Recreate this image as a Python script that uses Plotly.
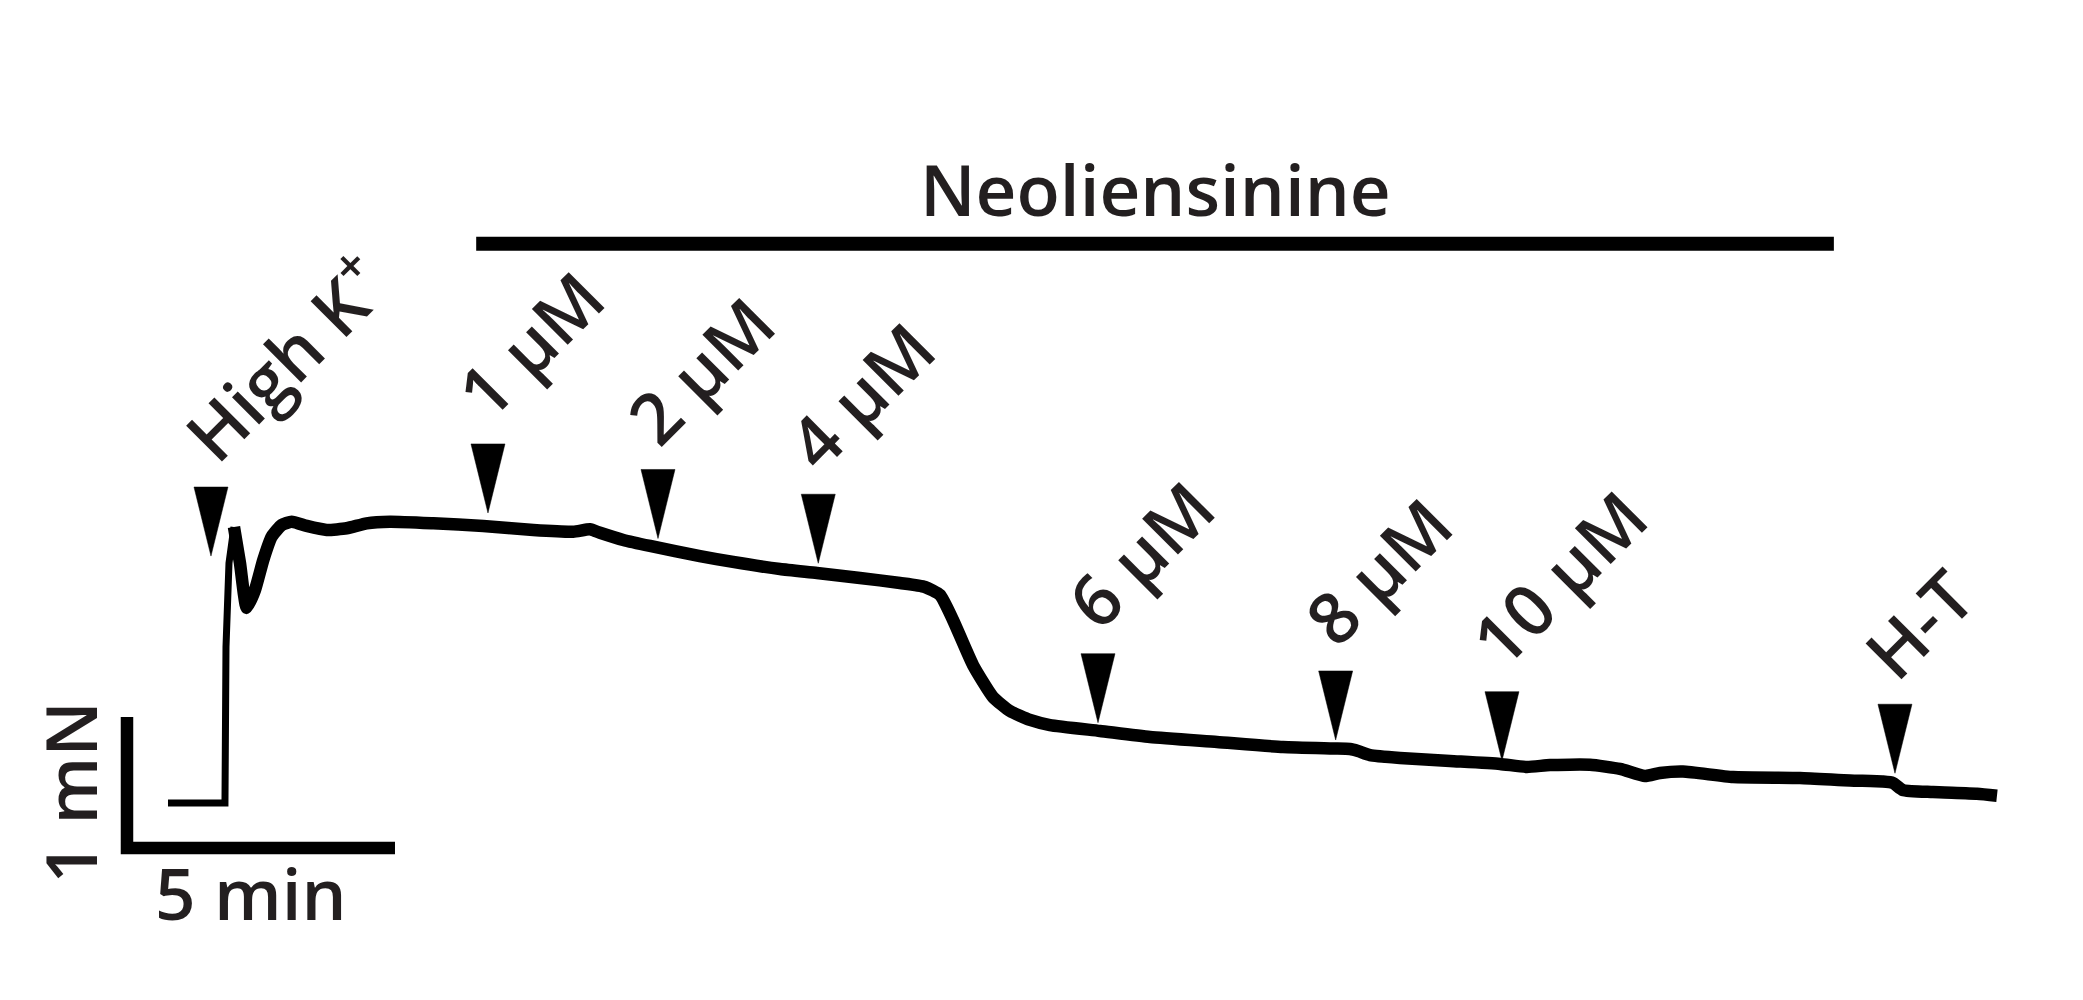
import plotly.graph_objects as go

# ---------------- data (time in min, tension in mN) ----------------
# resting baseline and the initial High-K+ rise (thin part of the trace)
rise_time = [0.0, 1.063, 1.082, 1.138, 1.231]
rise_force = [0.0, 0.0, 1.191, 1.832, 2.107]

# contraction trace after the High-K+ peak
trace_time = [1.231, 1.343, 1.468, 1.623, 1.778, 1.935, 2.121, 2.308, 2.588, 2.961,
              3.334, 3.707, 4.142, 4.950, 5.882, 6.815, 7.562, 7.873, 8.060, 8.494,
              8.993, 9.925, 10.541, 11.418, 12.108, 12.910, 13.657, 14.123, 14.403, 14.646,
              15.019, 15.392, 15.709, 16.082, 16.455, 17.388, 18.321, 19.571, 20.802, 21.735,
              22.052, 22.201, 22.425, 22.985, 23.918, 24.851, 25.354, 25.784, 26.530, 27.090,
              27.556, 27.836, 28.265, 29.198, 30.448, 31.381, 31.996, 32.183, 32.369, 32.929,
              33.750, 34.123]
trace_force = [2.107, 1.832, 1.489, 1.626, 1.855, 2.033, 2.122, 2.147, 2.115, 2.084,
               2.097, 2.135, 2.147, 2.135, 2.115, 2.084, 2.071, 2.089, 2.063, 2.008,
               1.962, 1.885, 1.840, 1.786, 1.756, 1.718, 1.679, 1.649, 1.588, 1.397,
               1.053, 0.809, 0.702, 0.634, 0.595, 0.550, 0.504, 0.466, 0.427, 0.416,
               0.412, 0.397, 0.366, 0.344, 0.321, 0.298, 0.275, 0.290, 0.292, 0.260,
               0.206, 0.229, 0.240, 0.198, 0.191, 0.172, 0.164, 0.153, 0.099, 0.084,
               0.071, 0.056]

# drug additions (arrowheads) and their labels
event_labels = ["High K<sup>+</sup>", "1 µM", "2 µM", "4 µM", "6 µM", "8 µM", "10 µM", "H-T"]
event_time = [0.802, 5.970, 9.142, 12.132, 17.351, 21.785, 24.888, 32.220]
event_force = [1.885, 2.214, 2.019, 1.830, 0.613, 0.481, 0.323, 0.227]

# treatment period bar
drug_name = "Neoliensinine"
drug_start = 5.75
drug_end = 31.08
drug_bar_level = 4.27

# scale bar
scale_time_min = 5
scale_force_mN = 1
scale_corner_time = -0.765
scale_corner_force = -0.344

# ---------------- styling ----------------
FONT = "Open Sans"
FS = 71
TXT = "#231f20"
# page body has an 8px margin, so the figure is 8px smaller than the window
FIG_W, FIG_H = 2075, 992
X_RANGE = [-2.985, 35.728]
Y_RANGE = [-1.5038, 6.0687]
ARROW_W = 0.634   # min
ARROW_H = 0.527   # mN

fig = go.Figure()

# thin baseline + rise
fig.add_trace(go.Scatter(x=rise_time, y=rise_force, mode="lines",
                         line=dict(color="black", width=7), hoverinfo="skip"))
# thick trace
fig.add_trace(go.Scatter(x=trace_time, y=trace_force, mode="lines",
                         line=dict(color="black", width=12.5, shape="spline", smoothing=0.5),
                         hoverinfo="skip"))

# arrowheads
ax_, ay_ = [], []
for t, f in zip(event_time, event_force):
    ax_ += [t - ARROW_W / 2, t + ARROW_W / 2, t, t - ARROW_W / 2, None]
    ay_ += [f + ARROW_H, f + ARROW_H, f, f + ARROW_H, None]
fig.add_trace(go.Scatter(x=ax_, y=ay_, mode="lines", fill="toself",
                         fillcolor="black", line=dict(color="black", width=0.5),
                         hoverinfo="skip"))

# treatment bar
fig.add_trace(go.Scatter(x=[drug_start, drug_end], y=[drug_bar_level, drug_bar_level],
                         mode="lines", line=dict(color="black", width=14), hoverinfo="skip"))

# scale bar
fig.add_trace(go.Scatter(
    x=[scale_corner_time, scale_corner_time, scale_corner_time + scale_time_min],
    y=[scale_corner_force + scale_force_mN, scale_corner_force, scale_corner_force],
    mode="lines", line=dict(color="black", width=12.5), hoverinfo="skip"))

font = dict(family=FONT, size=FS, color=TXT, weight=600)
annotations = []
for lab, t, f in zip(event_labels, event_time, event_force):
    annotations.append(dict(x=t, y=f + ARROW_H, xref="x", yref="y", text=lab,
                            showarrow=False, textangle=-45, xanchor="left", yanchor="bottom",
                            xshift=-55, yshift=3, font=font))

annotations.append(dict(x=(drug_start + drug_end) / 2, y=drug_bar_level, xref="x", yref="y",
                        text=drug_name, showarrow=False, xanchor="center", yanchor="middle",
                        yshift=55, font=font))
annotations.append(dict(x=scale_corner_time + scale_time_min / 2, y=scale_corner_force,
                        xref="x", yref="y", text=f"{scale_time_min} min", showarrow=False,
                        xanchor="center", yanchor="middle", xshift=-10, yshift=-44, font=font))
annotations.append(dict(x=scale_corner_time, y=scale_corner_force + scale_force_mN / 2,
                        xref="x", yref="y", text=f"{scale_force_mN} mN", showarrow=False,
                        textangle=-90, xanchor="center", yanchor="middle", xshift=-57, yshift=-10,
                        font=font))

fig.update_layout(
    width=FIG_W, height=FIG_H, margin=dict(l=0, r=0, t=0, b=0),
    paper_bgcolor="white", plot_bgcolor="white", showlegend=False,
    xaxis=dict(range=X_RANGE, visible=False, fixedrange=True),
    yaxis=dict(range=Y_RANGE, visible=False, fixedrange=True),
    annotations=annotations,
)

fig.write_html("out.html")
